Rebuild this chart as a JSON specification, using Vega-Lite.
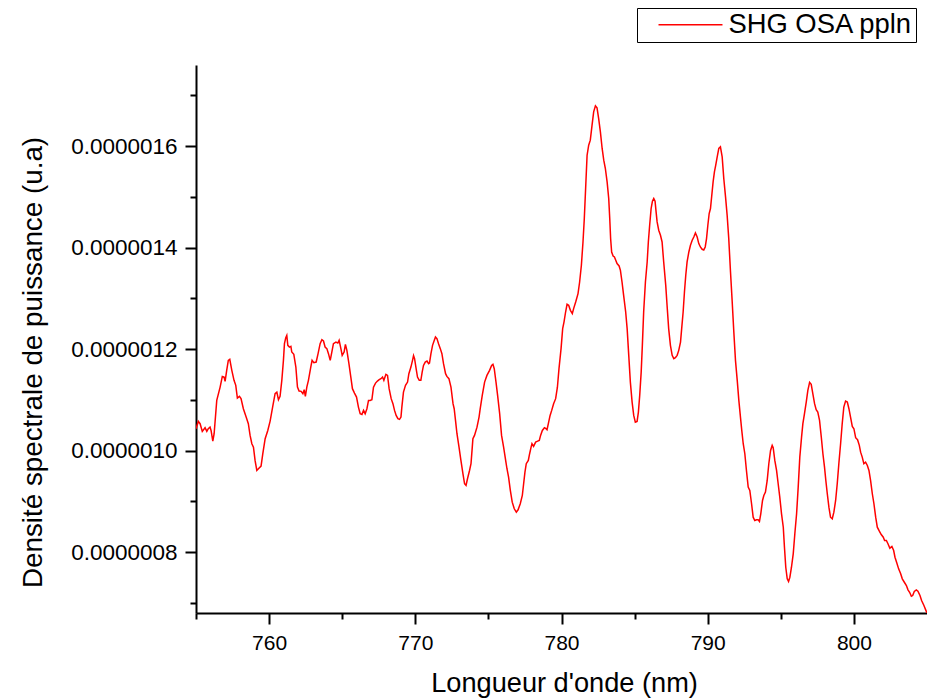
{
"$schema":"https://vega.github.io/schema/vega-lite/v6.json",
"width":731,"height":548,
"autosize":{"type":"none"},
"padding":{"left":196,"top":65,"right":0,"bottom":85},
"background":"#ffffff",
"config":{"view":{"stroke":null},"font":"Liberation Sans"},
"data":{"values":[
{"nm":755.00,"v":1.0432e-6},{"nm":755.16,"v":1.0576e-6},{"nm":755.28,"v":1.0531e-6},{"nm":755.43,"v":1.0379e-6},{"nm":755.62,"v":1.0452e-6},{"nm":755.74,"v":1.0379e-6},{"nm":755.84,"v":1.0432e-6},{"nm":755.96,"v":1.0463e-6},{"nm":756.03,"v":1.0398e-6},{"nm":756.15,"v":1.0187e-6},
{"nm":756.24,"v":1.0333e-6},{"nm":756.42,"v":1.0990e-6},{"nm":756.65,"v":1.1252e-6},{"nm":756.80,"v":1.1463e-6},{"nm":756.92,"v":1.1450e-6},{"nm":756.99,"v":1.1365e-6},{"nm":757.10,"v":1.1582e-6},{"nm":757.21,"v":1.1779e-6},{"nm":757.31,"v":1.1799e-6},{"nm":757.45,"v":1.1582e-6},
{"nm":757.60,"v":1.1385e-6},{"nm":757.72,"v":1.1286e-6},{"nm":757.83,"v":1.1035e-6},{"nm":757.97,"v":1.1069e-6},{"nm":758.08,"v":1.1024e-6},{"nm":758.24,"v":1.0826e-6},{"nm":758.43,"v":1.0661e-6},{"nm":758.58,"v":1.0531e-6},{"nm":758.70,"v":1.0300e-6},{"nm":758.82,"v":1.0136e-6},
{"nm":758.93,"v":1.0069e-6},{"nm":759.04,"v":0.9807e-6},{"nm":759.16,"v":0.9609e-6},{"nm":759.27,"v":0.9643e-6},{"nm":759.45,"v":0.9694e-6},{"nm":759.57,"v":0.9939e-6},{"nm":759.73,"v":1.0235e-6},{"nm":759.91,"v":1.0398e-6},{"nm":760.07,"v":1.0582e-6},{"nm":760.25,"v":1.0872e-6},
{"nm":760.41,"v":1.1122e-6},{"nm":760.53,"v":1.1154e-6},{"nm":760.64,"v":1.1004e-6},{"nm":760.75,"v":1.1069e-6},{"nm":760.87,"v":1.1385e-6},{"nm":760.98,"v":1.1779e-6},{"nm":761.05,"v":1.2108e-6},{"nm":761.14,"v":1.2227e-6},{"nm":761.21,"v":1.2272e-6},{"nm":761.28,"v":1.2075e-6},
{"nm":761.39,"v":1.2041e-6},{"nm":761.49,"v":1.2055e-6},{"nm":761.55,"v":1.1943e-6},{"nm":761.69,"v":1.1897e-6},{"nm":761.83,"v":1.1647e-6},{"nm":761.94,"v":1.1252e-6},{"nm":762.05,"v":1.1174e-6},{"nm":762.19,"v":1.1168e-6},{"nm":762.31,"v":1.1122e-6},{"nm":762.40,"v":1.1201e-6},
{"nm":762.48,"v":1.1069e-6},{"nm":762.58,"v":1.1252e-6},{"nm":762.69,"v":1.1385e-6},{"nm":762.85,"v":1.1647e-6},{"nm":762.94,"v":1.1779e-6},{"nm":763.06,"v":1.1734e-6},{"nm":763.22,"v":1.1746e-6},{"nm":763.35,"v":1.1911e-6},{"nm":763.49,"v":1.2108e-6},{"nm":763.61,"v":1.2187e-6},
{"nm":763.72,"v":1.2160e-6},{"nm":763.83,"v":1.2041e-6},{"nm":763.95,"v":1.2010e-6},{"nm":764.06,"v":1.1911e-6},{"nm":764.18,"v":1.1779e-6},{"nm":764.29,"v":1.1943e-6},{"nm":764.40,"v":1.2108e-6},{"nm":764.57,"v":1.2140e-6},{"nm":764.70,"v":1.2120e-6},{"nm":764.79,"v":1.2174e-6},
{"nm":764.91,"v":1.2010e-6},{"nm":765.00,"v":1.1878e-6},{"nm":765.13,"v":1.1943e-6},{"nm":765.22,"v":1.2095e-6},{"nm":765.32,"v":1.1976e-6},{"nm":765.46,"v":1.1714e-6},{"nm":765.59,"v":1.1450e-6},{"nm":765.70,"v":1.1221e-6},{"nm":765.84,"v":1.1134e-6},{"nm":765.98,"v":1.1055e-6},
{"nm":766.11,"v":1.0858e-6},{"nm":766.23,"v":1.0728e-6},{"nm":766.35,"v":1.0714e-6},{"nm":766.46,"v":1.0793e-6},{"nm":766.57,"v":1.0728e-6},{"nm":766.69,"v":1.0826e-6},{"nm":766.80,"v":1.0990e-6},{"nm":766.91,"v":1.0990e-6},{"nm":767.03,"v":1.1004e-6},{"nm":767.14,"v":1.1252e-6},
{"nm":767.28,"v":1.1331e-6},{"nm":767.41,"v":1.1371e-6},{"nm":767.53,"v":1.1398e-6},{"nm":767.65,"v":1.1418e-6},{"nm":767.76,"v":1.1450e-6},{"nm":767.85,"v":1.1385e-6},{"nm":767.99,"v":1.1503e-6},{"nm":768.10,"v":1.1483e-6},{"nm":768.21,"v":1.1221e-6},{"nm":768.35,"v":1.1024e-6},
{"nm":768.47,"v":1.0925e-6},{"nm":768.58,"v":1.0793e-6},{"nm":768.69,"v":1.0694e-6},{"nm":768.81,"v":1.0629e-6},{"nm":768.92,"v":1.0615e-6},{"nm":769.02,"v":1.0661e-6},{"nm":769.08,"v":1.0858e-6},{"nm":769.19,"v":1.1154e-6},{"nm":769.33,"v":1.1286e-6},{"nm":769.47,"v":1.1351e-6},
{"nm":769.56,"v":1.1517e-6},{"nm":769.70,"v":1.1647e-6},{"nm":769.81,"v":1.1779e-6},{"nm":769.88,"v":1.1872e-6},{"nm":769.95,"v":1.1813e-6},{"nm":770.04,"v":1.1647e-6},{"nm":770.15,"v":1.1450e-6},{"nm":770.27,"v":1.1385e-6},{"nm":770.38,"v":1.1385e-6},{"nm":770.47,"v":1.1548e-6},
{"nm":770.56,"v":1.1680e-6},{"nm":770.68,"v":1.1746e-6},{"nm":770.80,"v":1.1765e-6},{"nm":770.91,"v":1.1714e-6},{"nm":770.97,"v":1.1726e-6},{"nm":771.07,"v":1.1911e-6},{"nm":771.18,"v":1.2075e-6},{"nm":771.30,"v":1.2174e-6},{"nm":771.38,"v":1.2239e-6},{"nm":771.48,"v":1.2207e-6},
{"nm":771.59,"v":1.2108e-6},{"nm":771.71,"v":1.2010e-6},{"nm":771.82,"v":1.1911e-6},{"nm":771.93,"v":1.1714e-6},{"nm":772.07,"v":1.1517e-6},{"nm":772.16,"v":1.1463e-6},{"nm":772.30,"v":1.1418e-6},{"nm":772.44,"v":1.1252e-6},{"nm":772.58,"v":1.0925e-6},{"nm":772.66,"v":1.0826e-6},
{"nm":772.75,"v":1.0596e-6},{"nm":772.85,"v":1.0333e-6},{"nm":772.99,"v":1.0069e-6},{"nm":773.12,"v":0.9807e-6},{"nm":773.26,"v":0.9544e-6},{"nm":773.37,"v":0.9347e-6},{"nm":773.47,"v":0.9314e-6},{"nm":773.57,"v":0.9446e-6},{"nm":773.71,"v":0.9609e-6},{"nm":773.81,"v":0.9742e-6},
{"nm":773.88,"v":1.0004e-6},{"nm":773.94,"v":1.0235e-6},{"nm":774.05,"v":1.0300e-6},{"nm":774.22,"v":1.0463e-6},{"nm":774.36,"v":1.0661e-6},{"nm":774.44,"v":1.0826e-6},{"nm":774.58,"v":1.1089e-6},{"nm":774.74,"v":1.1351e-6},{"nm":774.90,"v":1.1483e-6},{"nm":775.08,"v":1.1582e-6},
{"nm":775.22,"v":1.1680e-6},{"nm":775.31,"v":1.1700e-6},{"nm":775.40,"v":1.1615e-6},{"nm":775.52,"v":1.1351e-6},{"nm":775.63,"v":1.1089e-6},{"nm":775.77,"v":1.0728e-6},{"nm":775.90,"v":1.0300e-6},{"nm":776.04,"v":1.0069e-6},{"nm":776.18,"v":0.9807e-6},{"nm":776.27,"v":0.9643e-6},
{"nm":776.38,"v":0.9477e-6},{"nm":776.50,"v":0.9215e-6},{"nm":776.63,"v":0.8984e-6},{"nm":776.77,"v":0.8854e-6},{"nm":776.91,"v":0.8787e-6},{"nm":777.03,"v":0.8834e-6},{"nm":777.18,"v":0.8953e-6},{"nm":777.32,"v":0.9116e-6},{"nm":777.41,"v":0.9347e-6},{"nm":777.50,"v":0.9576e-6},
{"nm":777.59,"v":0.9742e-6},{"nm":777.73,"v":0.9807e-6},{"nm":777.82,"v":0.9939e-6},{"nm":777.92,"v":1.0069e-6},{"nm":777.98,"v":1.0136e-6},{"nm":778.09,"v":1.0083e-6},{"nm":778.23,"v":1.0168e-6},{"nm":778.37,"v":1.0187e-6},{"nm":778.48,"v":1.0201e-6},{"nm":778.57,"v":1.0300e-6},
{"nm":778.69,"v":1.0398e-6},{"nm":778.83,"v":1.0452e-6},{"nm":778.94,"v":1.0432e-6},{"nm":779.01,"v":1.0412e-6},{"nm":779.10,"v":1.0531e-6},{"nm":779.22,"v":1.0694e-6},{"nm":779.33,"v":1.0793e-6},{"nm":779.46,"v":1.0925e-6},{"nm":779.60,"v":1.1024e-6},{"nm":779.72,"v":1.1250e-6},
{"nm":779.83,"v":1.1620e-6},{"nm":779.97,"v":1.2010e-6},{"nm":780.08,"v":1.2404e-6},{"nm":780.17,"v":1.2534e-6},{"nm":780.28,"v":1.2732e-6},{"nm":780.38,"v":1.2884e-6},{"nm":780.49,"v":1.2864e-6},{"nm":780.61,"v":1.2765e-6},{"nm":780.74,"v":1.2700e-6},{"nm":780.83,"v":1.2799e-6},
{"nm":780.97,"v":1.2929e-6},{"nm":781.13,"v":1.3095e-6},{"nm":781.24,"v":1.3323e-6},{"nm":781.36,"v":1.3653e-6},{"nm":781.47,"v":1.4112e-6},{"nm":781.56,"v":1.4574e-6},{"nm":781.65,"v":1.5166e-6},{"nm":781.75,"v":1.5822e-6},{"nm":781.86,"v":1.6020e-6},{"nm":781.97,"v":1.6118e-6},
{"nm":782.09,"v":1.6414e-6},{"nm":782.20,"v":1.6677e-6},{"nm":782.32,"v":1.6795e-6},{"nm":782.43,"v":1.6755e-6},{"nm":782.54,"v":1.6546e-6},{"nm":782.66,"v":1.6282e-6},{"nm":782.78,"v":1.5955e-6},{"nm":782.89,"v":1.5724e-6},{"nm":783.00,"v":1.5560e-6},{"nm":783.12,"v":1.5296e-6},
{"nm":783.23,"v":1.4968e-6},{"nm":783.30,"v":1.4574e-6},{"nm":783.36,"v":1.4179e-6},{"nm":783.43,"v":1.3915e-6},{"nm":783.53,"v":1.3836e-6},{"nm":783.62,"v":1.3817e-6},{"nm":783.71,"v":1.3751e-6},{"nm":783.80,"v":1.3686e-6},{"nm":783.94,"v":1.3639e-6},{"nm":784.03,"v":1.3554e-6},
{"nm":784.14,"v":1.3323e-6},{"nm":784.25,"v":1.3061e-6},{"nm":784.39,"v":1.2732e-6},{"nm":784.49,"v":1.2404e-6},{"nm":784.60,"v":1.1878e-6},{"nm":784.71,"v":1.1351e-6},{"nm":784.83,"v":1.0957e-6},{"nm":784.94,"v":1.0694e-6},{"nm":785.05,"v":1.0562e-6},{"nm":785.17,"v":1.0576e-6},
{"nm":785.26,"v":1.0759e-6},{"nm":785.35,"v":1.1089e-6},{"nm":785.45,"v":1.1548e-6},{"nm":785.53,"v":1.2075e-6},{"nm":785.62,"v":1.2732e-6},{"nm":785.74,"v":1.3323e-6},{"nm":785.86,"v":1.3718e-6},{"nm":785.94,"v":1.4112e-6},{"nm":786.03,"v":1.4442e-6},{"nm":786.13,"v":1.4771e-6},
{"nm":786.22,"v":1.4915e-6},{"nm":786.31,"v":1.4968e-6},{"nm":786.40,"v":1.4915e-6},{"nm":786.47,"v":1.4704e-6},{"nm":786.54,"v":1.4507e-6},{"nm":786.65,"v":1.4343e-6},{"nm":786.77,"v":1.4245e-6},{"nm":786.88,"v":1.4112e-6},{"nm":786.99,"v":1.3718e-6},{"nm":787.13,"v":1.3258e-6},
{"nm":787.22,"v":1.2864e-6},{"nm":787.33,"v":1.2404e-6},{"nm":787.45,"v":1.2075e-6},{"nm":787.57,"v":1.1878e-6},{"nm":787.68,"v":1.1813e-6},{"nm":787.79,"v":1.1832e-6},{"nm":787.91,"v":1.1878e-6},{"nm":788.02,"v":1.1976e-6},{"nm":788.14,"v":1.2140e-6},{"nm":788.22,"v":1.2404e-6},
{"nm":788.32,"v":1.2732e-6},{"nm":788.41,"v":1.3126e-6},{"nm":788.50,"v":1.3456e-6},{"nm":788.59,"v":1.3718e-6},{"nm":788.71,"v":1.3915e-6},{"nm":788.82,"v":1.4047e-6},{"nm":788.94,"v":1.4146e-6},{"nm":789.05,"v":1.4211e-6},{"nm":789.16,"v":1.4290e-6},{"nm":789.28,"v":1.4211e-6},
{"nm":789.39,"v":1.4081e-6},{"nm":789.50,"v":1.4014e-6},{"nm":789.62,"v":1.3968e-6},{"nm":789.73,"v":1.3955e-6},{"nm":789.83,"v":1.4014e-6},{"nm":789.92,"v":1.4179e-6},{"nm":790.01,"v":1.4442e-6},{"nm":790.10,"v":1.4673e-6},{"nm":790.19,"v":1.4771e-6},{"nm":790.28,"v":1.5034e-6},
{"nm":790.37,"v":1.5296e-6},{"nm":790.46,"v":1.5493e-6},{"nm":790.55,"v":1.5625e-6},{"nm":790.65,"v":1.5789e-6},{"nm":790.76,"v":1.5955e-6},{"nm":790.87,"v":1.5986e-6},{"nm":790.99,"v":1.5789e-6},{"nm":791.10,"v":1.5363e-6},{"nm":791.22,"v":1.5000e-6},{"nm":791.33,"v":1.4639e-6},
{"nm":791.44,"v":1.4179e-6},{"nm":791.56,"v":1.3521e-6},{"nm":791.67,"v":1.2963e-6},{"nm":791.78,"v":1.2371e-6},{"nm":791.90,"v":1.1779e-6},{"nm":792.02,"v":1.1385e-6},{"nm":792.13,"v":1.0990e-6},{"nm":792.24,"v":1.0661e-6},{"nm":792.33,"v":1.0398e-6},{"nm":792.43,"v":1.0136e-6},
{"nm":792.54,"v":0.9939e-6},{"nm":792.65,"v":0.9609e-6},{"nm":792.77,"v":0.9280e-6},{"nm":792.88,"v":0.9215e-6},{"nm":793.00,"v":0.8953e-6},{"nm":793.11,"v":0.8688e-6},{"nm":793.22,"v":0.8623e-6},{"nm":793.34,"v":0.8637e-6},{"nm":793.45,"v":0.8637e-6},{"nm":793.54,"v":0.8603e-6},
{"nm":793.63,"v":0.8755e-6},{"nm":793.75,"v":0.9018e-6},{"nm":793.84,"v":0.9116e-6},{"nm":793.95,"v":0.9182e-6},{"nm":794.07,"v":0.9412e-6},{"nm":794.18,"v":0.9742e-6},{"nm":794.30,"v":1.0004e-6},{"nm":794.41,"v":1.0103e-6},{"nm":794.48,"v":1.0057e-6},{"nm":794.59,"v":0.9807e-6},
{"nm":794.71,"v":0.9609e-6},{"nm":794.82,"v":0.9347e-6},{"nm":794.93,"v":0.9083e-6},{"nm":795.05,"v":0.8755e-6},{"nm":795.17,"v":0.8491e-6},{"nm":795.25,"v":0.8097e-6},{"nm":795.34,"v":0.7702e-6},{"nm":795.44,"v":0.7473e-6},{"nm":795.53,"v":0.7420e-6},{"nm":795.62,"v":0.7505e-6},
{"nm":795.73,"v":0.7702e-6},{"nm":795.85,"v":0.7966e-6},{"nm":795.96,"v":0.8361e-6},{"nm":796.08,"v":0.8755e-6},{"nm":796.19,"v":0.9280e-6},{"nm":796.30,"v":0.9872e-6},{"nm":796.42,"v":1.0266e-6},{"nm":796.51,"v":1.0531e-6},{"nm":796.62,"v":1.0728e-6},{"nm":796.74,"v":1.0957e-6},
{"nm":796.85,"v":1.1187e-6},{"nm":796.97,"v":1.1345e-6},{"nm":797.08,"v":1.1306e-6},{"nm":797.19,"v":1.1122e-6},{"nm":797.31,"v":1.0925e-6},{"nm":797.42,"v":1.0807e-6},{"nm":797.53,"v":1.0759e-6},{"nm":797.65,"v":1.0596e-6},{"nm":797.77,"v":1.0266e-6},{"nm":797.88,"v":0.9939e-6},
{"nm":797.99,"v":0.9675e-6},{"nm":798.08,"v":0.9412e-6},{"nm":798.18,"v":0.9150e-6},{"nm":798.29,"v":0.8886e-6},{"nm":798.40,"v":0.8688e-6},{"nm":798.52,"v":0.8657e-6},{"nm":798.63,"v":0.8787e-6},{"nm":798.75,"v":0.9018e-6},{"nm":798.86,"v":0.9347e-6},{"nm":798.97,"v":0.9742e-6},
{"nm":799.09,"v":1.0136e-6},{"nm":799.20,"v":1.0531e-6},{"nm":799.31,"v":1.0858e-6},{"nm":799.43,"v":1.0976e-6},{"nm":799.55,"v":1.0957e-6},{"nm":799.66,"v":1.0826e-6},{"nm":799.77,"v":1.0661e-6},{"nm":799.89,"v":1.0477e-6},{"nm":800.00,"v":1.0432e-6},{"nm":800.12,"v":1.0254e-6},
{"nm":800.25,"v":1.0215e-6},{"nm":800.37,"v":1.0103e-6},{"nm":800.46,"v":0.9970e-6},{"nm":800.57,"v":0.9872e-6},{"nm":800.68,"v":0.9742e-6},{"nm":800.80,"v":0.9773e-6},{"nm":800.92,"v":0.9708e-6},{"nm":801.03,"v":0.9609e-6},{"nm":801.14,"v":0.9412e-6},{"nm":801.26,"v":0.9150e-6},
{"nm":801.37,"v":0.8953e-6},{"nm":801.49,"v":0.8688e-6},{"nm":801.60,"v":0.8491e-6},{"nm":801.74,"v":0.8412e-6},{"nm":801.87,"v":0.8347e-6},{"nm":802.01,"v":0.8294e-6},{"nm":802.10,"v":0.8229e-6},{"nm":802.22,"v":0.8229e-6},{"nm":802.33,"v":0.8164e-6},{"nm":802.46,"v":0.8077e-6},
{"nm":802.60,"v":0.8110e-6},{"nm":802.72,"v":0.8032e-6},{"nm":802.81,"v":0.7899e-6},{"nm":802.92,"v":0.7801e-6},{"nm":803.06,"v":0.7670e-6},{"nm":803.20,"v":0.7572e-6},{"nm":803.31,"v":0.7473e-6},{"nm":803.45,"v":0.7406e-6},{"nm":803.59,"v":0.7341e-6},{"nm":803.70,"v":0.7256e-6},
{"nm":803.81,"v":0.7209e-6},{"nm":803.93,"v":0.7130e-6},{"nm":804.02,"v":0.7144e-6},{"nm":804.13,"v":0.7223e-6},{"nm":804.27,"v":0.7256e-6},{"nm":804.38,"v":0.7229e-6},{"nm":804.52,"v":0.7144e-6},{"nm":804.63,"v":0.7045e-6},{"nm":804.79,"v":0.6947e-6},{"nm":804.91,"v":0.6862e-6},
{"nm":805.00,"v":0.6800e-6}
]},
"layer":[
{"mark":{"type":"line","strokeWidth":1.5,"clip":true,"interpolate":"linear"},
 "encoding":{
  "x":{"field":"nm","type":"quantitative","scale":{"domain":[755,805],"nice":false,"zero":false},
   "axis":{"orient":"bottom","values":[760,770,780,790,800],"format":"d","grid":false,"domainColor":"#000000","domainWidth":2,"tickColor":"#000000","tickWidth":2,"tickSize":11,"labelFontSize":21,"labelColor":"#000000","labelPadding":8,"labelFont":"Liberation Sans","labelFlush":false,"labelOverlap":false,
    "title":"Longueur d'onde (nm)","titleFont":"Liberation Sans","titleFontSize":27.2,"titleFontWeight":"normal","titleColor":"#000000","titleX":368,"titleY":78,"titleBaseline":"alphabetic","titleAlign":"center"}},
  "y":{"field":"v","type":"quantitative","scale":{"domain":[6.8e-7,1.76e-6],"nice":false,"zero":false},
   "axis":{"orient":"left","values":[8e-7,1e-6,1.2e-6,1.4e-6,1.6e-6],"format":".7f","grid":false,"domainColor":"#000000","domainWidth":2,"tickColor":"#000000","tickWidth":2,"tickSize":11,"labelFontSize":22.5,"labelColor":"#000000","labelPadding":8,"labelFont":"Liberation Sans","labelFlush":false,"labelOverlap":false,"labelBaseline":"middle",
    "title":"Densité spectrale de puissance (u.a)","titleFont":"Liberation Sans","titleFontSize":27.8,"titleFontWeight":"normal","titleColor":"#000000","titleAngle":-90,"titleX":-155,"titleY":297,"titleBaseline":"alphabetic","titleAlign":"center"}},
  "color":{"datum":"SHG OSA ppln","type":"nominal","scale":{"range":["#ff0000"]},
   "legend":{"orient":"none","legendX":441,"legendY":-57,"title":null,"symbolType":"M0.93,0H13.3","symbolSize":107,"symbolStrokeWidth":1.5,"symbolStrokeColor":"#ff0000","symbolFillColor":"transparent","labelFontSize":27.4,"labelFont":"Liberation Sans","labelColor":"#000000","labelOffset":61,"labelLimit":400,"padding":3,"strokeColor":"#000000","fillColor":"#ffffff","cornerRadius":0}}
 }},
{"mark":{"type":"line","strokeOpacity":0},
 "encoding":{
  "x":{"field":"nm","type":"quantitative","axis":{"orient":"bottom","values":[755,765,775,785,795],"labels":false,"domain":false,"grid":false,"title":null,"tickColor":"#000000","tickWidth":2,"tickSize":6}},
  "y":{"field":"v","type":"quantitative","axis":{"orient":"left","values":[7e-7,9e-7,1.1e-6,1.3e-6,1.5e-6,1.7e-6],"labels":false,"domain":false,"grid":false,"title":null,"tickColor":"#000000","tickWidth":2,"tickSize":6}}
 }}
],
"resolve":{"axis":{"x":"independent","y":"independent"}}
}
